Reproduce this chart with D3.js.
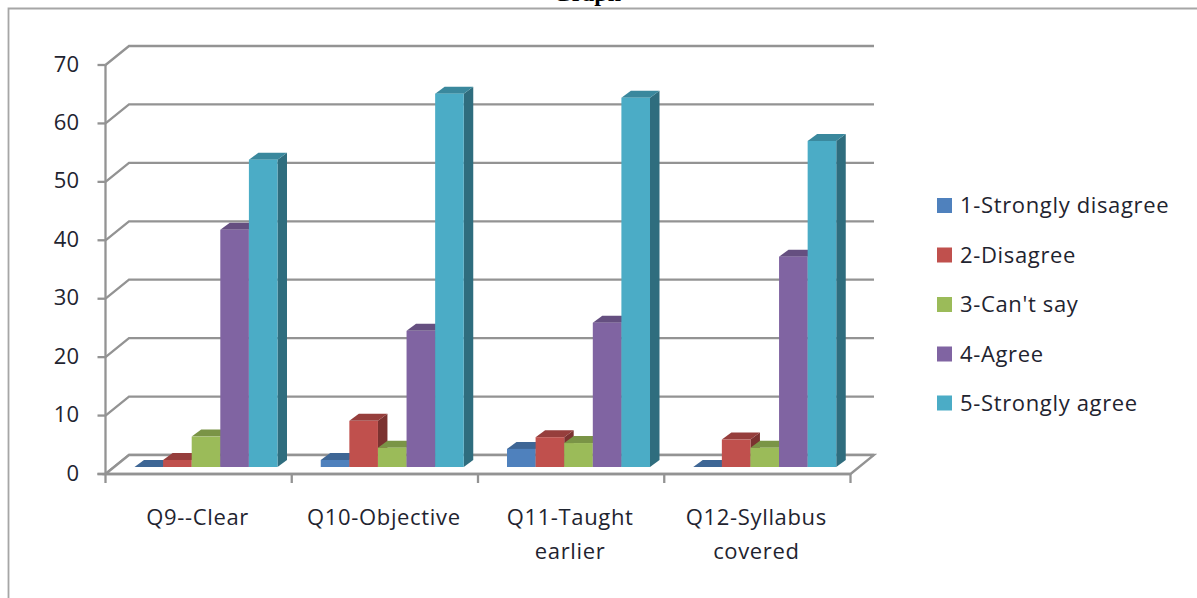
<!DOCTYPE html>
<html>
<head>
<meta charset="utf-8">
<script src="https://cdn.jsdelivr.net/npm/d3@7/dist/d3.min.js"></script>
<style>
html,body{margin:0;padding:0;background:#fff;overflow:hidden}
svg{display:block}
text{font-family:"Open Sans",Lato,sans-serif;fill:#1f2430}
</style>
</head>
<body>
<svg id="chart" width="1197" height="598"></svg>
<script>
const categories = [["Q9--Clear"], ["Q10-Objective"], ["Q11-Taught", "earlier"], ["Q12-Syllabus", "covered"]];
const seriesNames = ["1-Strongly disagree", "2-Disagree", "3-Can't say", "4-Agree", "5-Strongly agree"];
const strongDisagree = [0, 1.2, 3.1, 0];
const disagree = [1.2, 7.9, 5.1, 4.7];
const cantSay = [5.2, 3.3, 4.1, 3.3];
const agree = [40.6, 23.3, 24.7, 36];
const strongAgree = [52.6, 63.9, 63.2, 55.8];
const seriesValues = [strongDisagree, disagree, cantSay, agree, strongAgree];
const faceColors = ["#4f81bd", "#c0504d", "#9bbb59", "#8064a2", "#4bacc6"];
const topColors = ["#3e6695", "#963e3c", "#7a9446", "#654f80", "#3a889d"];
const sideColors = ["#335377", "#7b3230", "#627738", "#503f66", "#2f6d7e"];
const yTicks = [0, 10, 20, 30, 40, 50, 60, 70];
const titleText = "Graph";

const svg = d3.select("#chart");
const gridColor = "#939393";

// Heading sits mostly above the page edge, only its lowest strokes show
svg.append("text").attr("x", 553).attr("y", 1).attr("font-size", 24).attr("font-weight", 700)
  .style("font-family", "'Liberation Serif',serif").style("fill", "#000").text(titleText);

// Chart frame: open on the right and at the bottom
svg.append("path").attr("d", "M8.5,598V8.5H1197").attr("fill", "none").attr("stroke", "#a6a6a6").attr("stroke-width", 1.8);

// Oblique projection: the front plane, with wall and bar depth offsets
const xFront = 105.5, xEnd = 850.5, wallDx = 23.5, wallDy = -19;
const y = d3.scaleLinear().domain([0, 70]).range([474, 65]);
const x = d3.scaleBand().domain(d3.range(categories.length)).range([xFront, xEnd]);
const barW = 28.6, barInset = 29, barDrop = 7, depthX = 9.5, depthY = -7;
const barBase = y(0) - barDrop;
const barY = v => barBase - (y(0) - y(v));

// Back wall gridlines and their diagonal returns to the axis
const grid = svg.append("g").attr("fill", "none").attr("stroke", gridColor).attr("stroke-width", 2.3);
yTicks.forEach(t => {
  grid.append("path").attr("d", d3.line()([[xFront, y(t)], [xFront + wallDx, y(t) + wallDy], [xEnd + wallDx, y(t) + wallDy]]));
});

// Floor plane
svg.append("path")
  .attr("d", d3.line()([[xFront, y(0)], [xFront + wallDx, y(0) + wallDy], [xEnd + wallDx, y(0) + wallDy], [xEnd, y(0)]]) + "Z")
  .attr("fill", "#fff").attr("stroke", gridColor).attr("stroke-width", 2.3);

// Bars, drawn left to right so each one overlaps the side of its neighbour
const bars = svg.append("g");
categories.forEach((c, ci) => {
  seriesValues.forEach((vals, si) => {
    const v = vals[ci];
    const x0 = x(ci) + barInset + si * barW, x1 = x0 + barW;
    const yt = barY(v);
    const g = bars.append("g");
    g.append("path").attr("fill", sideColors[si])
      .attr("d", d3.line()([[x1, yt], [x1 + depthX, yt + depthY], [x1 + depthX, barBase + depthY], [x1, barBase]]) + "Z");
    g.append("path").attr("fill", topColors[si])
      .attr("d", d3.line()([[x0, yt], [x0 + depthX, yt + depthY], [x1 + depthX, yt + depthY], [x1, yt]]) + "Z");
    g.append("rect").attr("x", x0).attr("y", yt).attr("width", barW).attr("height", barBase - yt).attr("fill", faceColors[si]);
  });
});

// Vertical axis, ticks and labels
const yAxis = svg.append("g").attr("stroke", gridColor).attr("stroke-width", 2.3);
yAxis.append("line").attr("x1", xFront).attr("x2", xFront).attr("y1", y(70)).attr("y2", y(0));
yTicks.forEach(t => {
  yAxis.append("line").attr("x1", xFront - 8).attr("x2", xFront).attr("y1", y(t)).attr("y2", y(t));
  svg.append("text").attr("x", 79).attr("y", y(t) + 6.5).attr("text-anchor", "end").attr("font-size", 22).text(t);
});

// Horizontal axis, ticks and wrapped category labels
yAxis.append("line").attr("x1", xFront - 8).attr("x2", xEnd).attr("y1", y(0)).attr("y2", y(0));
d3.range(categories.length + 1).forEach(i => {
  const tx = i < categories.length ? x(i) : xEnd;
  yAxis.append("line").attr("x1", tx).attr("x2", tx).attr("y1", y(0)).attr("y2", y(0) + 9);
});
categories.forEach((lines, ci) => {
  lines.forEach((line, li) => {
    svg.append("text").attr("x", x(ci) + x.bandwidth() / 2 - 1).attr("y", 525 + li * 34)
      .attr("text-anchor", "middle").attr("font-size", 22).attr("letter-spacing", 0.65).text(line);
  });
});

// Legend
const legendY = [205.5, 255, 304.5, 354, 403];
seriesNames.forEach((name, i) => {
  svg.append("rect").attr("x", 937).attr("y", legendY[i] - 7.5).attr("width", 15).attr("height", 15).attr("fill", faceColors[i]);
  svg.append("text").attr("x", 960).attr("y", legendY[i] + 7.5).attr("font-size", 22).attr("letter-spacing", 0.65).text(name);
});
</script>
</body>
</html>
